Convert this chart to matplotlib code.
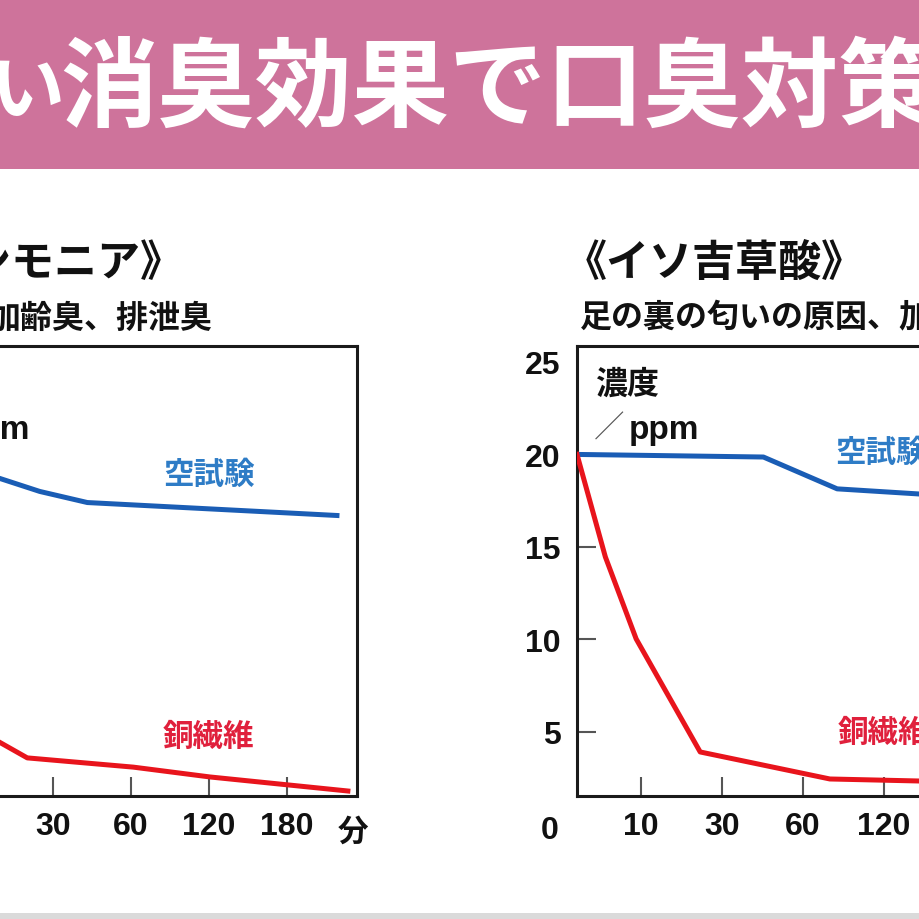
import matplotlib
matplotlib.use("Agg")
import matplotlib.pyplot as plt
from matplotlib.patches import Rectangle

plt.rcParams['font.family'] = ['Liberation Sans', 'Noto Sans CJK JP', 'DejaVu Sans']
JP = ['Noto Sans CJK JP', 'DejaVu Sans']

# --- data (x = position on the time axis, ticks at 1..5) ---
banner_head = "い"
banner_text = "消臭効果で口臭対策"
time_ticks = [1, 2, 3, 4, 5]
time_labels = ['10', '30', '60', '120', '180']
conc_ticks = [5, 10, 15, 20, 25]
conc_labels = ['5', '10', '15', '20', '25']

# アンモニア
amm_title = "《アンモニア》"
amm_sub = "加齢臭、排泄臭"
amm_blank_x = [0.14, 1.32, 1.83, 2.44, 5.64]
amm_blank_y = [20, 18.7, 18.0, 17.4, 16.7]
amm_cu_x = [0.14, 1.25, 1.67, 3.03, 4.01, 5.78]
amm_cu_y = [20, 4.6, 3.6, 3.1, 2.57, 1.81]

# イソ吉草酸
iso_title = "《イソ吉草酸》"
iso_sub = "足の裏の匂いの原因、加齢臭"
iso_blank_x = [0.21, 2.51, 3.42, 4.44, 5.5]
iso_blank_y = [20, 19.86, 18.14, 17.86, 17.6]
iso_cu_x = [0.21, 0.56, 0.94, 1.73, 3.33, 4.44, 5.6]
iso_cu_y = [20, 14.46, 10.03, 3.92, 2.46, 2.35, 2.2]

PINK = '#CE739B'
BLUE = '#1A5DB5'
BLUE_TXT = '#2E7CC6'
RED = '#E8141C'
RED_TXT = '#E0203C'
INK = '#111111'

W = H = 920


def fx(px):
    return px / W


def fy(py):
    return 1 - py / H


fig = plt.figure(figsize=(9.2, 9.2), dpi=100)
fig.patch.set_facecolor('white')

# banner
fig.add_artist(Rectangle((0, fy(170)), 1, 170 / H, transform=fig.transFigure,
                         facecolor=PINK, edgecolor='none', zorder=0))
fig.text(fx(27), fy(92), banner_head, color='white', fontsize=54, fontweight='bold',
         family=JP, ha='center', va='center')
fig.text(fx(60), fy(90), banner_text, color='white', fontsize=70, fontweight='bold',
         family=JP, ha='left', va='center')
# bottom grey rule
fig.add_artist(Rectangle((0, 0), 1, 6 / H, transform=fig.transFigure,
                         facecolor='#DADADA', edgecolor='none', zorder=0))


def draw_chart(left_px, xlim, bx, by, cx, cy, blank_pos, cu_pos):
    ax = fig.add_axes([fx(left_px), fy(797), 449 / W, 450 / H])
    ax.plot(bx, by, color=BLUE, lw=3.6, zorder=3, solid_joinstyle='round')
    ax.plot(cx, cy, color=RED, lw=3.6, zorder=3, solid_joinstyle='round')
    ax.set_xlim(*xlim)
    ax.set_ylim(1.54, 25.86)
    for s in ax.spines.values():
        s.set_linewidth(2.2)
        s.set_color('#1a1a1a')
    ax.set_xticks(time_ticks)
    ax.set_xticklabels(time_labels, fontweight='bold')
    ax.set_yticks(conc_ticks)
    ax.set_yticklabels(conc_labels, fontweight='bold')
    ax.tick_params(direction='in', length=14, width=1.5, color='#555555',
                   labelsize=23, labelcolor=INK)
    ax.tick_params(axis='x', pad=11)
    ax.tick_params(axis='y', pad=12)
    ax.yaxis.get_major_ticks()[-1].tick1line.set_visible(False)

    ax.text(0.040, 0.916, '濃度', transform=ax.transAxes, family=JP,
            fontsize=23, fontweight='bold', va='center', ha='left', color=INK)
    ax.text(0.038, 0.82, '／', transform=ax.transAxes, family=JP,
            fontsize=22, fontweight='light', va='center', ha='left', color='#555555')
    ax.text(0.116, 0.815, 'ppm', transform=ax.transAxes, fontweight='bold',
            fontsize=24, va='center', ha='left', color=INK)
    ax.text(blank_pos[0], blank_pos[1], '空試験', transform=ax.transAxes, family=JP,
            fontsize=22, fontweight='bold', color=BLUE_TXT, va='center', ha='left')
    ax.text(cu_pos[0], cu_pos[1], '銅繊維', transform=ax.transAxes, family=JP,
            fontsize=22, fontweight='bold', color=RED_TXT, va='center', ha='left')
    return ax


draw_chart(-92, (0.141, 5.897), amm_blank_x, amm_blank_y,
           amm_cu_x, amm_cu_y, (0.568, 0.716), (0.568, 0.133))
draw_chart(577, (0.21, 5.75), iso_blank_x, iso_blank_y,
           iso_cu_x, iso_cu_y, (0.575, 0.764), (0.581, 0.142))

# chart titles
fig.text(fx(184), fy(263), amm_title, family=JP, fontsize=31, fontweight='bold',
         ha='right', va='center', color=INK)
fig.text(fx(564), fy(263), iso_title, family=JP, fontsize=31, fontweight='bold',
         ha='left', va='center', color=INK)
fig.text(fx(212), fy(318), amm_sub, family=JP, fontsize=23, fontweight='bold',
         ha='right', va='center', color=INK)
fig.text(fx(580), fy(318), iso_sub, family=JP, fontsize=23, fontweight='bold',
         ha='left', va='center', color=INK)

# corner labels
fig.text(fx(550), fy(831), '0', fontsize=23, fontweight='bold', ha='center',
         va='center', color=INK)
fig.text(fx(353), fy(832), '分', family=JP, fontsize=22, fontweight='bold',
         ha='center', va='center', color=INK)

fig.savefig('out.png', dpi=100)
